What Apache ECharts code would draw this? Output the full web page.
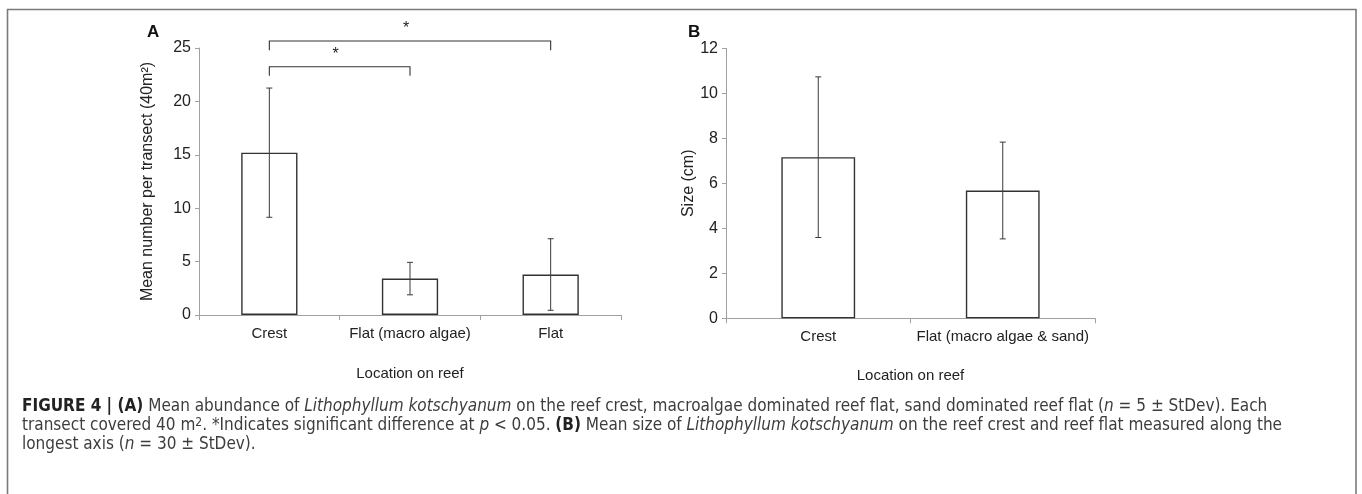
<!DOCTYPE html>
<html><head><meta charset="utf-8">
<script src="https://cdn.jsdelivr.net/npm/echarts/dist/echarts.min.js"></script>
<style>html,body{margin:0;padding:0;background:#fff}#c{width:1362px;height:494px}</style>
</head><body><div id="c"></div>
<script>
// Panel A data
const catsA = ['Crest', 'Flat (macro algae)', 'Flat'];
const meanA = [15.2, 3.41, 3.79];
const sdA = [6.05, 1.52, 3.35];
const ticksA = {min: 0, max: 25, interval: 5};
// significance brackets: [fromCategory, toCategory, bracketLevel, dropLevel]
const sigA = [[0, 1, 23.25, 22.4], [0, 2, 25.65, 24.8]];
// Panel B data
const catsB = ['Crest', 'Flat (macro algae & sand)'];
const meanB = [7.16, 5.68];
const sdB = [3.57, 2.15];
const ticksB = {min: 0, max: 12, interval: 2};

const chart = echarts.init(document.getElementById('c'));
const FONT = '"Liberation Sans", Arial, sans-serif';
const CAP = '"Liberation Sans Narrow", "DejaVu Sans Condensed", "Liberation Sans", sans-serif';
const axisCol = '#a0a0a0';

function errData(means, sds) {
  return means.map((m, i) => [i, m - sds[i], m + sds[i]]);
}
function errRender(params, api) {
  const x = api.value(0), lo = api.value(1), hi = api.value(2);
  const a = api.coord([x, hi]), b = api.coord([x, lo]);
  const w = 3;
  const st = {stroke: '#3a3a3a', lineWidth: 1};
  return {type: 'group', children: [
    {type: 'line', shape: {x1: a[0], y1: a[1], x2: b[0], y2: b[1]}, style: st},
    {type: 'line', shape: {x1: a[0] - w, y1: a[1], x2: a[0] + w, y2: a[1]}, style: st},
    {type: 'line', shape: {x1: b[0] - w, y1: b[1], x2: b[0] + w, y2: b[1]}, style: st}
  ]};
}
function sigRender(params, api) {
  const i0 = api.value(0), i1 = api.value(1), top = api.value(2), drop = api.value(3);
  const p0 = api.coord([i0, top]), p1 = api.coord([i1, top]);
  const d0 = api.coord([i0, drop]), d1 = api.coord([i1, drop]);
  return {type: 'group', children: [
    {type: 'polyline', shape: {points: [d0, p0, p1, d1]}, style: {stroke: '#333', lineWidth: 1.1, fill: null}},
    {type: 'text', x: (p0[0] + p1[0]) / 2 - 4, y: p0[1] - 4,
     style: {text: '*', font: '16px ' + FONT, fill: '#222', align: 'center', verticalAlign: 'bottom'}}
  ]};
}

function xAx(cats, idx, gap) {
  return {
    type: 'category', gridIndex: idx, data: cats,
    name: 'Location on reef', nameLocation: 'middle', nameGap: gap,
    nameTextStyle: {fontFamily: FONT, fontSize: 15, color: '#222'},
    axisLine: {lineStyle: {color: axisCol, width: 1}},
    axisTick: {show: true, length: 5, lineStyle: {color: axisCol}},
    axisLabel: {fontFamily: FONT, fontSize: 15, color: '#222', margin: 11, interval: 0}
  };
}
function yAx(t, idx, name, gap) {
  return {
    type: 'value', gridIndex: idx, min: t.min, max: t.max, interval: t.interval,
    name: name, nameLocation: 'middle', nameGap: gap, nameRotate: 90,
    nameTextStyle: {fontFamily: FONT, fontSize: 16, color: '#222'},
    axisLine: {show: true, lineStyle: {color: axisCol, width: 1}},
    axisTick: {show: true, length: 4, lineStyle: {color: axisCol}},
    axisLabel: {fontFamily: FONT, fontSize: 16, color: '#222', margin: 8},
    splitLine: {show: false}
  };
}

const barStyle = {color: '#fff', borderColor: '#333', borderWidth: 1.4};

function capLine(y, text) {
  return {type: 'text', left: 22, top: y, silent: true,
    style: {text: text, font: '17px ' + CAP, fill: '#3d3d3d',
      rich: {
        b: {fontFamily: CAP, fontSize: 17, fontWeight: 'bold', fill: '#222'},
        i: {fontFamily: CAP, fontSize: 17, fontStyle: 'italic', fill: '#3d3d3d'},
        s: {fontFamily: CAP, fontSize: 12, fill: '#3d3d3d', verticalAlign: 'top', padding: [0,0,6,0]}
      }}};
}

chart.setOption({
  animation: false,
  grid: [
    {left: 199, top: 48, width: 422, height: 267},
    {left: 726, top: 48.3, width: 369, height: 270}
  ],
  xAxis: [xAx(catsA, 0, 51), xAx(catsB, 1, 50)],
  yAxis: [yAx(ticksA, 0, 'Mean number per transect (40m²)', 43), yAx(ticksB, 1, 'Size (cm)', 25)],
  series: [
    {type: 'bar', xAxisIndex: 0, yAxisIndex: 0, data: meanA, barWidth: '40%', itemStyle: barStyle, silent: true},
    {type: 'custom', xAxisIndex: 0, yAxisIndex: 0, data: errData(meanA, sdA), renderItem: errRender, z: 5, encode: {x: 0, y: [1, 2]}, silent: true},
    {type: 'custom', xAxisIndex: 0, yAxisIndex: 0, data: sigA, renderItem: sigRender, z: 5, encode: {x: [0, 1], y: [2, 3]}, clip: false, silent: true},
    {type: 'bar', xAxisIndex: 1, yAxisIndex: 1, data: meanB, barWidth: '40%', itemStyle: barStyle, silent: true},
    {type: 'custom', xAxisIndex: 1, yAxisIndex: 1, data: errData(meanB, sdB), renderItem: errRender, z: 5, encode: {x: 0, y: [1, 2]}, silent: true}
  ],
  graphic: [
    {type: 'polyline', silent: true, shape: {points: [[7.5, 494], [7.5, 9.5], [1356, 9.5], [1356, 494]]},
     style: {stroke: '#7a7a7a', lineWidth: 1.6, fill: null}},
    {type: 'text', left: 147, top: 24, style: {text: 'A', font: 'bold 17px ' + FONT, fill: '#111'}},
    {type: 'text', left: 688, top: 24, style: {text: 'B', font: 'bold 17px ' + FONT, fill: '#111'}},
    capLine(398, '{b|FIGURE 4 | (A)} Mean abundance of {i|Lithophyllum kotschyanum} on the reef crest, macroalgae dominated reef flat, sand dominated reef flat ({i|n} = 5 ± StDev). Each'),
    capLine(417, 'transect covered 40 m{s|2}. *Indicates significant difference at {i|p} < 0.05. {b|(B)} Mean size of {i|Lithophyllum kotschyanum} on the reef crest and reef flat measured along the'),
    capLine(436, 'longest axis ({i|n} = 30 ± StDev).')
  ]
});
</script></body></html>
